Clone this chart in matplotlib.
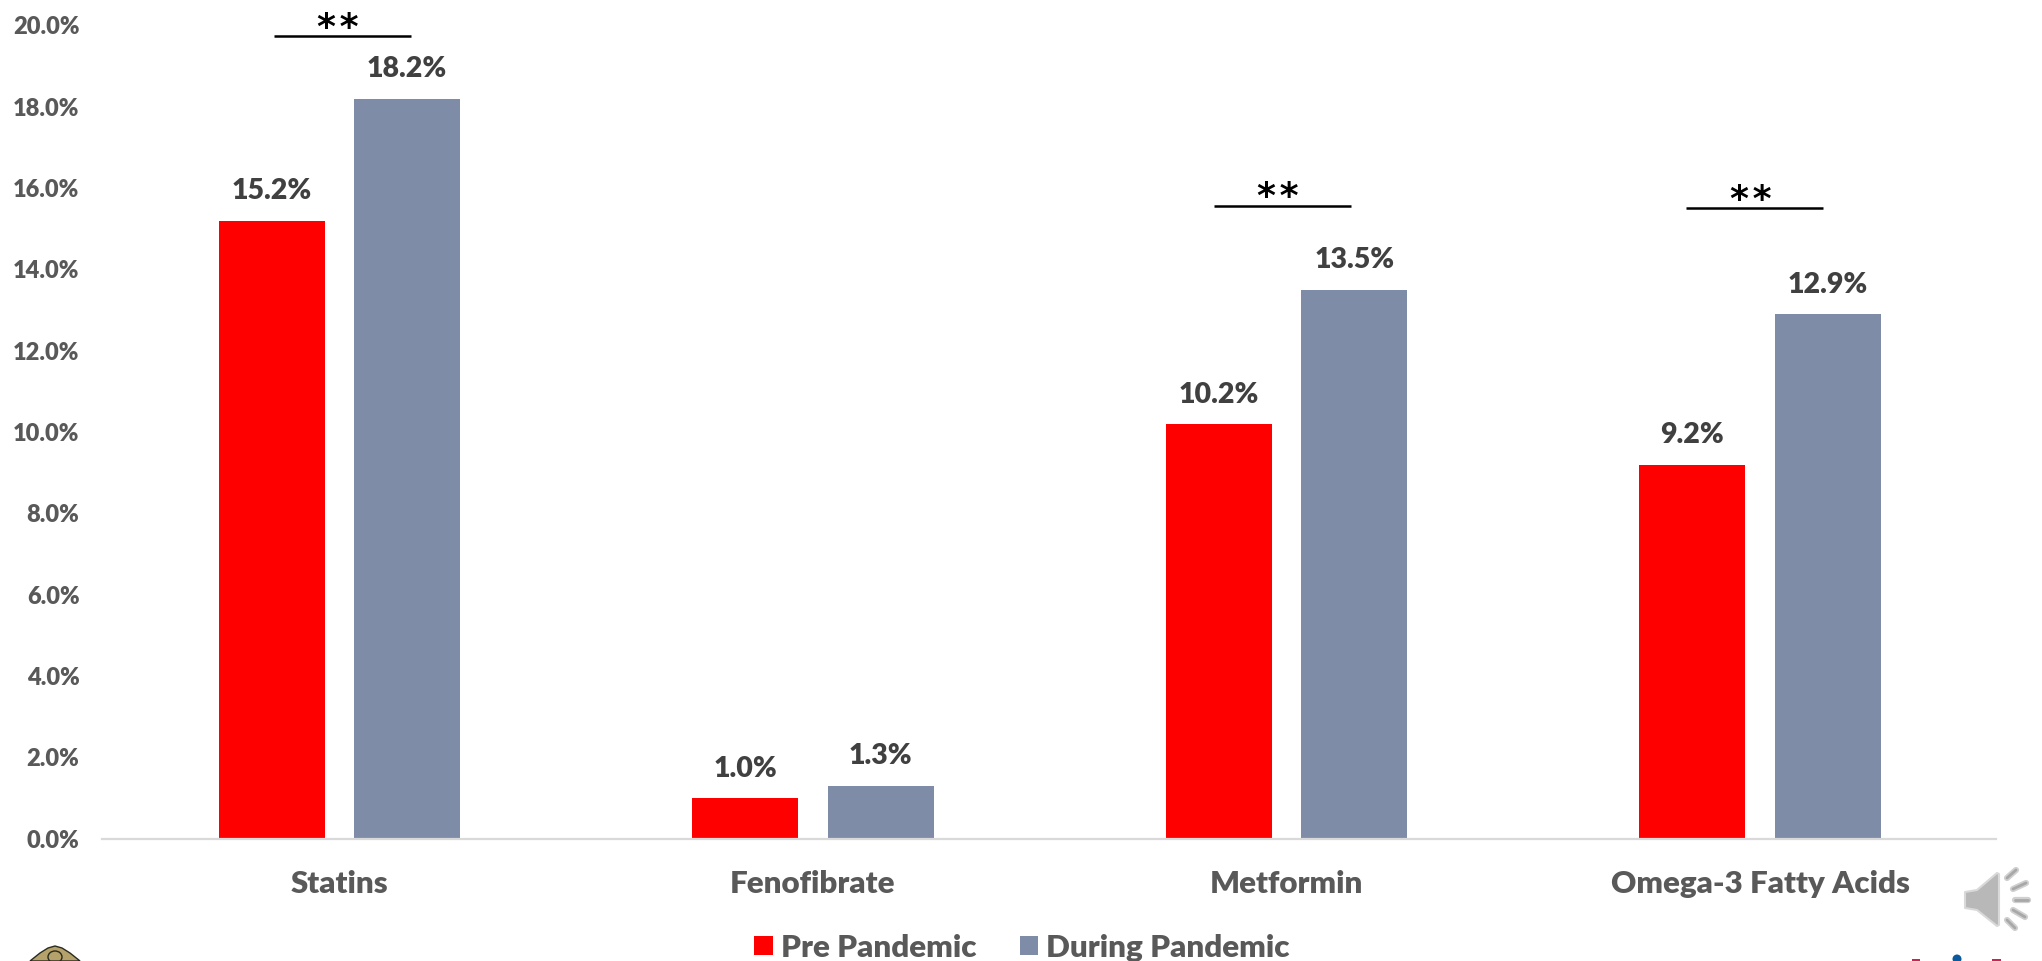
import matplotlib
matplotlib.use('Agg')
import matplotlib.pyplot as plt
import matplotlib.transforms as mtrans
import numpy as np
from matplotlib.patches import Polygon, Rectangle, Ellipse

plt.rcParams['font.family'] = ['Lato', 'DejaVu Sans']

drugs = ['Statins', 'Fenofibrate', 'Metformin', 'Omega-3 Fatty Acids']
pre = [15.2, 1.0, 10.2, 9.2]
during = [18.2, 1.3, 13.5, 12.9]
yticks = [0, 2, 4, 6, 8, 10, 12, 14, 16, 18, 20]
sig_groups = [0, 2, 3]
sig_heights = [19.75, 15.57, 15.5]
sig_shift = [0.008, -0.007, -0.0096]

W, H = 2042, 961
fig = plt.figure(figsize=(W/100, H/100), dpi=100)
ax = fig.add_axes([101.6/W, 1-838.5/H, (1996-101.6)/W, (838.5-25.5)/H])

x = np.arange(len(drugs)) + 0.002
bw = 0.224
off = 0.143
ax.bar(x-off, pre, bw, color='#ff0000', label='Pre Pandemic')
ax.bar(x+off, during, bw, color='#7f8ca8', label='During Pandemic')

for i in range(len(drugs)):
    ax.text(x[i]-off, pre[i]+0.72, f'{pre[i]:.1f}%', ha='center', va='center', fontsize=20.5, fontweight='heavy', color='#404040')
    ax.text(x[i]+off, during[i]+0.72, f'{during[i]:.1f}%', ha='center', va='center', fontsize=20.5, fontweight='heavy', color='#404040')

for g, h, s in zip(sig_groups, sig_heights, sig_shift):
    ax.plot([g+s-0.1445, g+s+0.1445], [h, h], color='black', lw=1.8, solid_capstyle='butt', clip_on=False)
    ax.text(g+s-0.009, h+0.2, '*\u200a*', ha='center', va='center', fontsize=26, fontweight='bold', color='black', family='DejaVu Sans')

ax.set_xlim(-0.5, 3.5)
ax.set_ylim(0, 20)
ax.set_xticks(x)
ax.set_xticklabels(drugs, fontsize=22.5, fontweight='heavy', color='#595959')
ax.set_yticks(yticks)
up = mtrans.ScaledTranslation(0, 3/100, fig.dpi_scale_trans)
ax.set_yticklabels([f'{t:.1f}%' for t in yticks], fontsize=17, fontweight='heavy', color='#595959')
for lab in ax.get_yticklabels():
    lab.set_transform(lab.get_transform() + up)
ax.tick_params(length=0)
ax.tick_params(axis='x', pad=23)
ax.tick_params(axis='y', pad=16)
for s in ['top', 'right', 'left']:
    ax.spines[s].set_visible(False)
ax.spines['bottom'].set_color('#d9d9d9')
ax.spines['bottom'].set_linewidth(1.6)

fig.legend(loc='lower center', bbox_to_anchor=(1022/W, -0.03), ncol=2, frameon=False, prop={'size': 22.6, 'weight': 'heavy'},
           labelcolor='#595959', handlelength=0.59, handleheight=0.59, handletextpad=0.24, columnspacing=1.4)

# speaker icon and the logos cut off by the frame, in pixels of the slide
icon = fig.add_axes([0, 0, 1, 1], facecolor='none')
icon.set_xlim(0, W)
icon.set_ylim(H, 0)
icon.axis('off')
icon.add_patch(Polygon([[1965, 892], [1977, 890], [1997, 873], [1999, 874], [1999, 925], [1997, 926], [1977, 910], [1965, 908]],
                       fc='#b8b8b8', ec='#d9d9d9', lw=1.5, joinstyle='round'))
for a, b in [((2007, 878), (2016, 870)), ((2013, 889), (2026, 883)), ((2015, 900), (2028, 900)), ((2013, 910), (2025, 917)), ((2007, 920), (2015, 928))]:
    icon.plot([a[0], b[0]], [a[1], b[1]], color='#d0d0d0', lw=4.5, solid_capstyle='round')
    icon.plot([a[0], b[0]], [a[1], b[1]], color='#a8a8a8', lw=2, solid_capstyle='round')
icon.add_patch(Polygon([[30, 961], [40, 953], [48, 948], [55, 946], [62, 948], [70, 953], [80, 961]], fc='#b5a26a', ec='#2a2a20', lw=1))
icon.add_patch(Ellipse((55, 957), 14, 12, fc='none', ec='#2a2a20', lw=1))
icon.add_patch(Ellipse((1957, 959), 9, 9, fc='#0b5a9e', ec='none'))
icon.add_patch(Rectangle((1912, 959), 8, 2, fc='#cc2255', ec='none'))
icon.add_patch(Rectangle((1992, 959), 9, 2, fc='#cc2255', ec='none'))

fig.savefig('out.png', dpi=100)
